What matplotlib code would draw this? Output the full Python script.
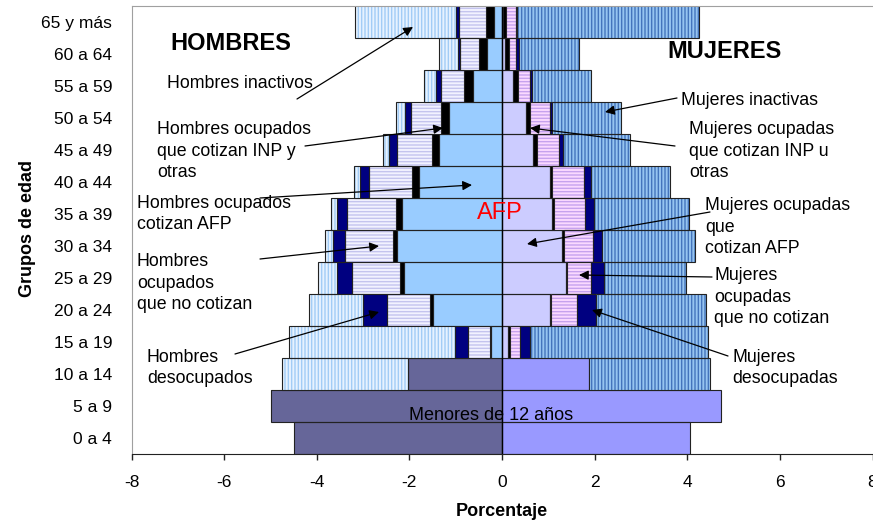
import matplotlib.pyplot as plt
import numpy as np

plt.rcParams['font.family'] = ['Liberation Sans', 'DejaVu Sans']
plt.rcParams['hatch.linewidth'] = 1.0

W, H = 873, 522

ages = ['0 a 4', '5 a 9', '10 a 14', '15 a 19', '20 a 24', '25 a 29', '30 a 34',
        '35 a 39', '40 a 44', '45 a 49', '50 a 54', '55 a 59', '60 a 64', '65 y más']

# hombres (porcentaje)
h_menores = [4.49, 4.99, 2.03, 0, 0, 0, 0, 0, 0, 0, 0, 0, 0, 0]
h_afp = [0, 0, 0, 0.23, 1.50, 2.12, 2.27, 2.15, 1.79, 1.36, 1.15, 0.63, 0.33, 0.18]
h_inp = [0, 0, 0, 0.03, 0.05, 0.08, 0.09, 0.14, 0.15, 0.16, 0.17, 0.18, 0.16, 0.16]
h_nocot = [0, 0, 0, 0.48, 0.94, 1.03, 1.02, 1.06, 0.93, 0.75, 0.65, 0.50, 0.41, 0.58]
h_desoc = [0, 0, 0, 0.27, 0.52, 0.34, 0.26, 0.22, 0.19, 0.16, 0.12, 0.11, 0.04, 0.07]
h_inact = [0, 0, 2.72, 3.59, 1.16, 0.41, 0.18, 0.13, 0.14, 0.13, 0.19, 0.26, 0.43, 2.18]

# mujeres (porcentaje)
m_menores = [4.07, 4.73, 1.88, 0, 0, 0, 0, 0, 0, 0, 0, 0, 0, 0]
m_afp = [0, 0, 0, 0.14, 1.04, 1.39, 1.29, 1.09, 1.03, 0.66, 0.51, 0.23, 0.06, 0.02]
m_inp = [0, 0, 0, 0.03, 0.02, 0.02, 0.04, 0.04, 0.06, 0.09, 0.09, 0.12, 0.09, 0.06]
m_nocot = [0, 0, 0, 0.22, 0.55, 0.52, 0.64, 0.66, 0.68, 0.48, 0.44, 0.25, 0.16, 0.22]
m_desoc = [0, 0, 0, 0.22, 0.42, 0.27, 0.20, 0.19, 0.16, 0.09, 0.03, 0.04, 0.06, 0.02]
m_inact = [0, 0, 2.62, 3.84, 2.37, 1.77, 1.99, 2.06, 1.69, 1.45, 1.50, 1.28, 1.29, 3.93]

x_ticks = [-8, -6, -4, -2, 0, 2, 4, 6, 8]


def fx(px):
    return px / W


def fy(py):
    return 1 - py / H


fig = plt.figure(figsize=(W / 100, H / 100), dpi=100)
ax = fig.add_axes([fx(131.5), fy(454.3), 741 / W, (454.3 - 5.5) / H])

y = np.arange(len(ages))


def draw_side(sign, segments):
    left = np.zeros(len(ages))
    for vals, face, hatch, hcol in segments:
        vals = np.array(vals, dtype=float)
        m = vals > 0
        ax.barh(y[m], sign * vals[m], left=left[m], height=1.0, color=face,
                hatch=hatch, edgecolor=hcol, linewidth=0)
        ax.barh(y[m], sign * vals[m], left=left[m], height=1.0, fill=False,
                edgecolor='#222222', linewidth=0.8)
        left = left + sign * vals


draw_side(-1, [
    (h_menores, '#666699', None, '#666699'),
    (h_afp, '#99CCFF', None, '#99CCFF'),
    (h_inp, '#000000', None, '#000000'),
    (h_nocot, '#F2F2FF', '-----', '#C4C4EE'),
    (h_desoc, '#000080', None, '#000080'),
    (h_inact, '#E6F2FF', '|||||', '#A2CCF6'),
])
draw_side(1, [
    (m_menores, '#9999FF', None, '#9999FF'),
    (m_afp, '#CCCCFF', None, '#CCCCFF'),
    (m_inp, '#000000', None, '#000000'),
    (m_nocot, '#FAD9FF', '-----', '#C6A2EE'),
    (m_desoc, '#000080', None, '#000080'),
    (m_inact, '#96C4F0', '|||||', '#4474BC'),
])

ax.axvline(0, color='black', lw=1)

ax.set_xlim(-8, 8)
ax.set_ylim(-0.5, len(ages) - 0.5)
ax.set_xticks(x_ticks)
ax.set_xticklabels([str(t) for t in x_ticks], fontsize=12.5)
ax.set_yticks(y)
ax.set_yticklabels(ages, fontsize=12.5)
ax.tick_params(axis='y', length=0, pad=14)
ax.tick_params(axis='x', direction='out', length=4, width=1, color='#222222', pad=11)
for s in ['top', 'left']:
    ax.spines[s].set_color('#A0A0A0')
ax.spines['right'].set_visible(False)
ax.spines['bottom'].set_color('#222222')

fig.text(fx(502), fy(511), 'Porcentaje', fontsize=13, fontweight='bold', ha='center', va='center')
fig.text(fx(27), fy(229), 'Grupos de edad', fontsize=13, fontweight='bold', rotation=90,
         ha='center', va='center')

fig.text(fx(170), fy(44), 'HOMBRES', fontsize=17, fontweight='bold', va='center')
fig.text(fx(667), fy(52), 'MUJERES', fontsize=17, fontweight='bold', va='center')
fig.text(fx(477), fy(213), 'AFP', fontsize=17, color='#FF0000', va='center')
fig.text(fx(409), fy(415), 'Menores de 12 años', fontsize=13, va='center')

labels = [
    ('Hombres inactivos', 167, 84),
    ('Hombres ocupados\nque cotizan INP y\notras', 157, 151),
    ('Hombres ocupados\ncotizan AFP', 137, 214),
    ('Hombres\nocupados\nque no cotizan', 137, 283),
    ('Hombres\ndesocupados', 147, 368),
    ('Mujeres inactivas', 681, 100),
    ('Mujeres ocupadas\nque cotizan INP u\notras', 689, 151),
    ('Mujeres ocupadas\nque\ncotizan AFP', 705, 227),
    ('Mujeres\nocupadas\nque no cotizan', 714, 297),
    ('Mujeres\ndesocupadas', 732, 368),
]
for txt, lx, ly in labels:
    fig.text(fx(lx), fy(ly), txt, fontsize=12.8, va='center', ha='left', linespacing=1.36)

arrows = [
    ((297, 99), (413, 27)),
    ((305, 146), (443, 128)),
    ((260, 198), (472, 185)),
    ((260, 259), (379, 246)),
    ((235, 354), (379, 312)),
    ((677, 98), (605, 112)),
    ((675, 146), (530, 128)),
    ((710, 212), (527, 244)),
    ((712, 277), (579, 275)),
    ((728, 356), (592, 310)),
]
for (tx, ty), (hx, hy) in arrows:
    ax.annotate('', xy=(hx, H - hy), xycoords='figure pixels',
                xytext=(tx, H - ty), textcoords='figure pixels',
                arrowprops=dict(arrowstyle='-|>', color='black', lw=0.9,
                                mutation_scale=14, shrinkA=0, shrinkB=0),
                annotation_clip=False)

fig.savefig('out.png', dpi=100)
